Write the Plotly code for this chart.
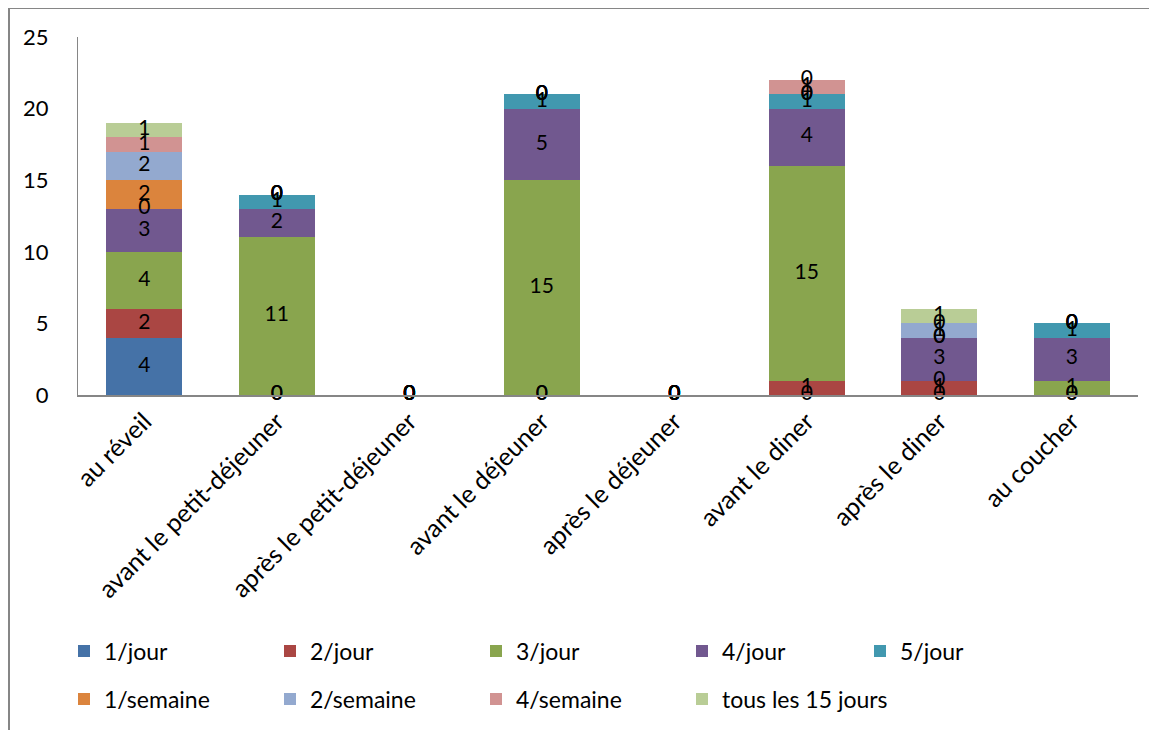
import numpy as np
import plotly.graph_objects as go

categories = ["au réveil", "avant le petit-déjeuner", "après le petit-déjeuner",
              "avant le déjeuner", "après le déjeuner", "avant le diner",
              "après le diner", "au coucher"]

s_1jour = [4, 0, 0, 0, 0, 0, 0, 0]
s_2jour = [2, 0, 0, 0, 0, 1, 1, 0]
s_3jour = [4, 11, 0, 15, 0, 15, 0, 1]
s_4jour = [3, 2, 0, 5, 0, 4, 3, 3]
s_5jour = [0, 1, 0, 1, 0, 1, 0, 1]
s_1sem = [2, 0, 0, 0, 0, 0, 0, 0]
s_2sem = [2, 0, 0, 0, 0, 0, 1, 0]
s_4sem = [1, 0, 0, 0, 0, 1, 0, 0]
s_15j = [1, 0, 0, 0, 0, 0, 1, 0]

series_names = ["1/jour", "2/jour", "3/jour", "4/jour", "5/jour",
                "1/semaine", "2/semaine", "4/semaine", "tous les 15 jours"]
series_values = [s_1jour, s_2jour, s_3jour, s_4jour, s_5jour,
                 s_1sem, s_2sem, s_4sem, s_15j]
colors = ["#4572A7", "#AA4643", "#89A54E", "#71588F", "#4198AF",
          "#DB843D", "#93A9CF", "#D19392", "#B9CD96"]
legend_of = ["legend", "legend", "legend", "legend", "legend3",
             "legend2", "legend2", "legend2", "legend2"]

FONT = "Lato, 'Open Sans', sans-serif"
W, H = 1157, 730
OFF = 8  # page body margin
L = 78 - OFF
T = 37 - OFF
R = W - (1138 - OFF)
B = H - (395 - OFF)
pw, ph = W - L - R, H - T - B

fig = go.Figure()
base = np.zeros(len(categories))
label_x, label_y, label_t = [], [], []
for i, (name, vals, col) in enumerate(zip(series_names, series_values, colors)):
    v = np.array(vals, dtype=float)
    fig.add_trace(go.Bar(
        x=categories, y=v, name=name, marker=dict(color=col, line=dict(width=0)),
        legend=legend_of[i], hoverinfo="skip"))
    label_x += categories
    label_y += list(base + v / 2)
    label_t += [str(int(a)) for a in v]
    base = base + v

fig.add_trace(go.Scatter(x=label_x, y=label_y, text=label_t, mode="text",
                         textfont=dict(family=FONT, size=21, color="black"),
                         showlegend=False, hoverinfo="skip", cliponaxis=False))

# figure-pixel -> paper
def fx(p):
    return (p - L) / pw

def fy(p):
    return (H - B - p) / ph

fig.add_shape(type="line", xref="paper", yref="paper", x0=fx(0), x1=fx(W + 5),
              y0=fy(0), y1=fy(0), line=dict(color="#868686", width=2))
fig.add_shape(type="line", xref="paper", yref="paper", x0=fx(1), x1=fx(1),
              y0=fy(0), y1=fy(H + 5), line=dict(color="#868686", width=2))

leg_common = dict(orientation="h", xref="container", yref="container",
                  xanchor="left", yanchor="middle", traceorder="normal",
                  entrywidth=161, entrywidthmode="pixels", font=dict(size=23),
                  bgcolor="rgba(0,0,0,0)")

fig.update_layout(
    width=W, height=H,
    margin=dict(l=L, r=R, t=T, b=B, autoexpand=False),
    paper_bgcolor="white", plot_bgcolor="white",
    barmode="stack", bargap=0.43,
    font=dict(family=FONT, size=22, color="black"),
    xaxis=dict(showgrid=False, showline=True, linecolor="#868686", linewidth=2,
               tickangle=-45, ticks="", tickfont=dict(size=25), automargin=False),
    yaxis=dict(range=[0, 25], dtick=5, showgrid=False, showline=True,
               linecolor="#868686", linewidth=1, ticks="", zeroline=False,
               ticklabelstandoff=24, tickfont=dict(size=22), automargin=False),
    legend=dict(x=(64 - OFF) / W, y=1 - (651 - OFF) / H, **leg_common),
    legend2=dict(x=(64 - OFF) / W, y=1 - (699 - OFF) / H, **leg_common),
    legend3=dict(x=(860 - OFF) / W, y=1 - (651 - OFF) / H, **leg_common),
    showlegend=True,
)

fig.write_html("out.html")
